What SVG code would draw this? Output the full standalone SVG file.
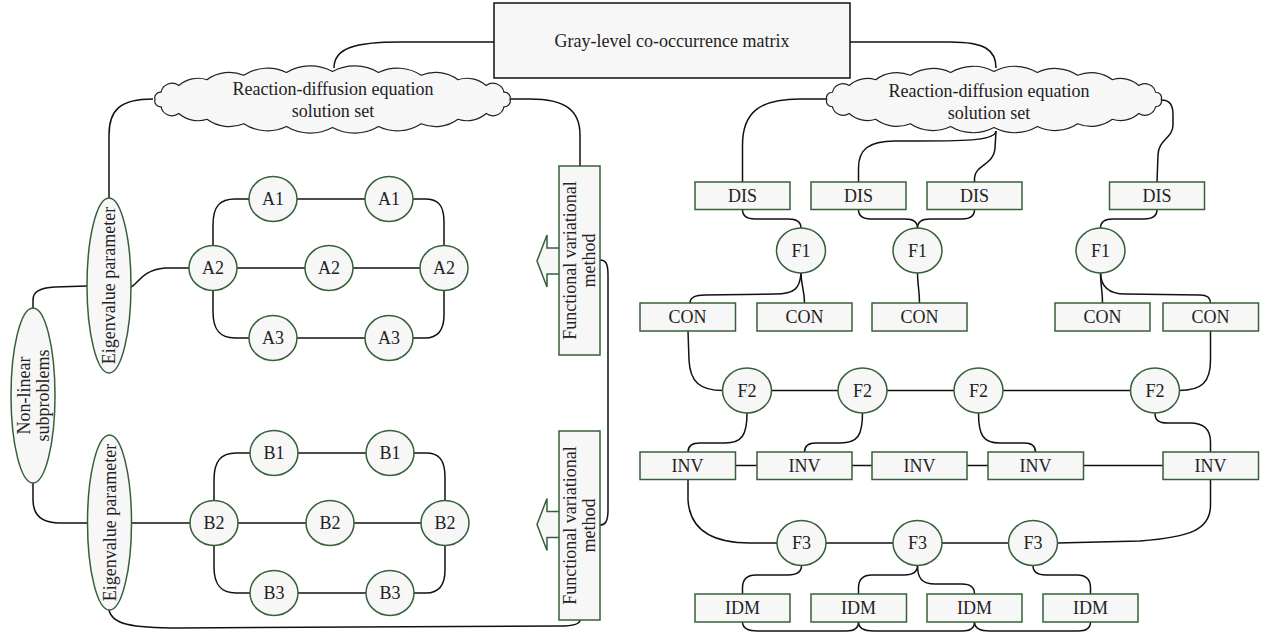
<svg xmlns="http://www.w3.org/2000/svg" width="1267" height="633" viewBox="0 0 1267 633">
<style>
.c{fill:none;stroke:#111;stroke-width:1.5}
.n{fill:#f7f7f7;stroke:#35603a;stroke-width:1.5}
.k{fill:#f7f7f7;stroke:#111;stroke-width:1.5}
.cl{fill:#f7f7f7;stroke:#222;stroke-width:1.2}
text{font-family:"Liberation Serif","Times New Roman",serif;font-size:18px;fill:#222;text-anchor:middle}
</style>
<rect width="1267" height="633" fill="#fff"/>
<g id="connectors">
<path class="c" d="M494,42 L400,42 C355,42 334,48 334,68"/>
<path class="c" d="M850,42 L950,42 C985,42 996,50 996,68"/>
<path class="c" d="M153,99 C120,99 109,110 109,135 L109,198"/>
<path class="c" d="M510,99 L530,99 C565,99 580,110 580,135 L580,166"/>
<path class="c" d="M600,260 C606,260 608,264 608,275 L608,510 C608,522 605,525 600,525"/>
<path class="c" d="M109,610 C112,624 130,628 180,628 L560,626 C574,626 580,624 580,620"/>
<path class="c" d="M87,286 L55,287 C39,288 33,292 33,300 L33,308"/>
<path class="c" d="M33,483 L33,500 C33,516 42,523 60,523 L88,523"/>
<path class="c" d="M131,287 C138,284 142,270 165,268 L189,268"/>
<path class="c" d="M131,523 L190,523"/>
<path class="c" d="M297,199 L365,199"/>
<path class="c" d="M213,245.5 L213,225 C213,206 220,199 235,199 L249,199"/>
<path class="c" d="M413,199 L425,199 C438,199 444,205 444,222 L444,245.5"/>
<path class="c" d="M237,268 L305,268 M353,268 L420,268"/>
<path class="c" d="M213,290.5 L213,312 C213,330 220,338 235,338 L249,338"/>
<path class="c" d="M413,338 L425,338 C438,338 444,330 444,315 L444,290.5"/>
<path class="c" d="M297,338 L365,338"/>
<path class="c" d="M298,453 L366,453"/>
<path class="c" d="M214,500.5 L214,480 C214,461 221,453 236,453 L250,453"/>
<path class="c" d="M414,453 L426,453 C439,453 445,460 445,477 L445,500.5"/>
<path class="c" d="M238,523 L306,523 M354,523 L421,523"/>
<path class="c" d="M214,545.5 L214,567 C214,585 221,593 236,593 L250,593"/>
<path class="c" d="M414,593 L426,593 C439,593 445,585 445,570 L445,545.5"/>
<path class="c" d="M298,593 L366,593"/>
<path class="c" d="M826,99 L800,99 C760,99 742.5,112 742.5,145 L742.5,182"/>
<path class="c" d="M996,131 C995,140 970,141 920,141 L895,141 C868,141 858.5,150 858.5,168 L858.5,182"/>
<path class="c" d="M996,131 L995,148 C994,165 975,165 974.5,178 L974.5,182"/>
<path class="c" d="M1161,100 C1170,100 1173,105 1173,115 L1173,125 C1173,138 1158,140 1158,155 L1157,182"/>
<path class="c" d="M742.5,209.5 C742.5,216 746,219 755,219 L788,219 C797,219 801,222 801,228"/>
<path class="c" d="M858.5,209.5 C858.5,216 862,219 871,219 L905,219 C914,219 917.5,222 917.5,228"/>
<path class="c" d="M974.5,209.5 C974.5,216 971,219 962,219 L930,219 C921,219 917.5,222 917.5,228"/>
<path class="c" d="M1157,209.5 C1157,216 1153,219 1144,219 L1113,219 C1104,219 1100.5,222 1100.5,228"/>
<path class="c" d="M801,273 C800,288 795,294 775,294 L705,295 C694,295 690,298 690,303"/>
<path class="c" d="M801,273 C801,285 804.5,290 804.5,303"/>
<path class="c" d="M917.5,273 C917.5,285 919.5,290 919.5,303"/>
<path class="c" d="M1100.5,273 C1100.5,285 1102.5,290 1102.5,303"/>
<path class="c" d="M1100.5,273 C1101,288 1110,294 1125,294 L1200,295 C1207,295 1210.5,298 1210.5,303"/>
<path class="c" d="M688,331 L689,360 C690,382 700,390.5 723,390.5"/>
<path class="c" d="M771,390.5 L838.5,390.5 M886.5,390.5 L954.5,390.5 M1002.5,390.5 L1131,390.5"/>
<path class="c" d="M1210.5,331 L1210.5,360 C1210.5,382 1202,390.5 1179,390.5"/>
<path class="c" d="M747,413 C747,435 742,443 725,443 L700,443 C692,443 688,446 688,452"/>
<path class="c" d="M862.5,413 C862.5,435 858,443 840,443 L816,443 C808,443 804.5,446 804.5,452"/>
<path class="c" d="M978.5,413 C978.5,435 983,443 1000,443 L1024,443 C1032,443 1035.5,446 1035.5,452"/>
<path class="c" d="M1155,413 C1155,420 1158,423 1168,423 L1190,423 C1205,423 1210.5,430 1210.5,442 L1210.5,452"/>
<path class="c" d="M735,465.5 L757,465.5 M852,465.5 L872,465.5 M967,465.5 L988,465.5 M1083,465.5 L1163,465.5"/>
<path class="c" d="M688,479 L688,500 C690,532 715,543 750,543 L777.5,543"/>
<path class="c" d="M825.5,543 L893.5,543 M941.5,543 L1009,543"/>
<path class="c" d="M1210.5,479 L1210.5,505 C1210.5,530 1190,537 1140,541 L1057,543"/>
<path class="c" d="M801.5,565.5 C801.5,572 797,575 788,575 L756,575 C747,575 742.5,580 742.5,588 L742.5,594"/>
<path class="c" d="M917.5,565.5 C917.5,572 913,575 904,575 L872,575 C863,575 858.5,580 858.5,588 L858.5,594"/>
<path class="c" d="M917.5,565.5 C917.5,578 922,584 935,584 L962,584 C971,584 974.5,588 974.5,594"/>
<path class="c" d="M1033,565.5 C1033,572 1037,575 1046,575 L1077,575 C1086,575 1090.5,580 1090.5,588 L1090.5,594"/>
<path class="c" d="M742.5,622 C742.5,628 747,631 758,631 L846,631 C855,631 858.5,628 858.5,622"/>
<path class="c" d="M858.5,622 C858.5,628 863,631 874,631 L962,631 C971,631 974.5,628 974.5,622"/>
<path class="c" d="M974.5,622 C974.5,628 979,631 990,631 L1078,631 C1087,631 1090.5,628 1090.5,622"/>
</g>
<g id="glcm"><rect class="k" x="494" y="3" width="356" height="75"/><text x="672" y="47">Gray-level co-occurrence matrix</text></g>
<g id="cloud-left">
<path class="cl" transform="translate(332.5,0) scale(1.02,1) translate(-332.5,0)" d="M158.5,99.5 A5.6,5.6 0 0 1 164.4,92.25 A11,11 0 0 1 181.8,85.5 A28,28 0 0 1 209.5,79.7 A36,36 0 0 1 245.5,75.25 A42,42 0 0 1 287.4,72.45 A45,45 0 0 1 332.5,71.5 A45,45 0 0 1 377.6,72.45 A42,42 0 0 1 419.5,75.25 A36,36 0 0 1 455.5,79.7 A28,28 0 0 1 483.2,85.5 A11,11 0 0 1 500.6,92.25 A5.6,5.6 0 0 1 506.5,99.5 A5.6,5.6 0 0 1 500.6,106.75 A11,11 0 0 1 483.2,113.5 A28,28 0 0 1 455.5,119.3 A36,36 0 0 1 419.5,123.75 A42,42 0 0 1 377.6,126.55 A45,45 0 0 1 332.5,127.5 A45,45 0 0 1 287.4,126.55 A42,42 0 0 1 245.5,123.75 A36,36 0 0 1 209.5,119.3 A28,28 0 0 1 181.8,113.5 A11,11 0 0 1 164.4,106.75 A5.6,5.6 0 0 1 158.5,99.5 Z"/>
<text x="333" y="95">Reaction-diffusion equation</text><text x="333" y="117">solution set</text></g>
<g id="cloud-right">
<path class="cl" transform="translate(994,0) scale(1.02,1) translate(-994,0)" d="M830,99.5 A5.6,5.6 0 0 1 835.6,92.25 A10.7,10.7 0 0 1 852,85.5 A26.7,26.7 0 0 1 878,79.7 A34.3,34.3 0 0 1 912,75.25 A39.5,39.5 0 0 1 951.5,72.45 A42.5,42.5 0 0 1 994,71.5 A42.5,42.5 0 0 1 1036.5,72.45 A39.5,39.5 0 0 1 1076,75.25 A34.3,34.3 0 0 1 1110,79.7 A26.7,26.7 0 0 1 1136,85.5 A10.7,10.7 0 0 1 1152.4,92.25 A5.6,5.6 0 0 1 1158,99.5 A5.6,5.6 0 0 1 1152.4,106.75 A10.7,10.7 0 0 1 1136,113.5 A26.7,26.7 0 0 1 1110,119.3 A34.3,34.3 0 0 1 1076,123.75 A39.5,39.5 0 0 1 1036.5,126.55 A42.5,42.5 0 0 1 994,127.5 A42.5,42.5 0 0 1 951.5,126.55 A39.5,39.5 0 0 1 912,123.75 A34.3,34.3 0 0 1 878,119.3 A26.7,26.7 0 0 1 852,113.5 A10.7,10.7 0 0 1 835.6,106.75 A5.6,5.6 0 0 1 830,99.5 Z"/>
<text x="989" y="97">Reaction-diffusion equation</text><text x="989" y="119">solution set</text></g>
<g id="eigen-1"><ellipse class="n" cx="109" cy="285.5" rx="22" ry="87.5"/><text transform="translate(109,285.5) rotate(-90)" y="6">Eigenvalue parameter</text></g>
<g id="eigen-2"><ellipse class="n" cx="109.5" cy="522.5" rx="22" ry="87.5"/><text transform="translate(109.5,522.5) rotate(-90)" y="6">Eigenvalue parameter</text></g>
<g id="nonlinear"><ellipse class="n" cx="33" cy="395.5" rx="22" ry="87.5"/><text transform="translate(33,395.5) rotate(-90)"><tspan x="0" y="-3">Non-linear</tspan><tspan x="0" y="16">subproblems</tspan></text></g>
<g id="fvm-1"><polygon class="n" points="560,248 547,248 547,235 537,261 547,287 547,274 560,274"/><rect class="n" x="559" y="166" width="41" height="189"/><text transform="translate(579.5,260.5) rotate(-90)"><tspan x="0" y="-4">Functional variational</tspan><tspan x="0" y="15">method</tspan></text></g>
<g id="fvm-2"><polygon class="n" points="560,511.5 547,511.5 547,498.5 537,524.5 547,550.5 547,537.5 560,537.5"/><rect class="n" x="559" y="431" width="41" height="189"/><text transform="translate(579.5,525.5) rotate(-90)"><tspan x="0" y="-4">Functional variational</tspan><tspan x="0" y="15">method</tspan></text></g>
<g id="a1-l"><ellipse class="n" cx="273" cy="199" rx="24" ry="22.5"/><text x="273" y="205">A1</text></g>
<g id="a1-r"><ellipse class="n" cx="389" cy="199" rx="24" ry="22.5"/><text x="389" y="205">A1</text></g>
<g id="a2-l"><ellipse class="n" cx="213" cy="268" rx="24" ry="22.5"/><text x="213" y="274">A2</text></g>
<g id="a2-m"><ellipse class="n" cx="329" cy="268" rx="24" ry="22.5"/><text x="329" y="274">A2</text></g>
<g id="a2-r"><ellipse class="n" cx="444" cy="268" rx="24" ry="22.5"/><text x="444" y="274">A2</text></g>
<g id="a3-l"><ellipse class="n" cx="273" cy="338" rx="24" ry="22.5"/><text x="273" y="344">A3</text></g>
<g id="a3-r"><ellipse class="n" cx="389" cy="338" rx="24" ry="22.5"/><text x="389" y="344">A3</text></g>
<g id="b1-l"><ellipse class="n" cx="274" cy="453" rx="24" ry="22.5"/><text x="274" y="459">B1</text></g>
<g id="b1-r"><ellipse class="n" cx="390" cy="453" rx="24" ry="22.5"/><text x="390" y="459">B1</text></g>
<g id="b2-l"><ellipse class="n" cx="214" cy="523" rx="24" ry="22.5"/><text x="214" y="529">B2</text></g>
<g id="b2-m"><ellipse class="n" cx="330" cy="523" rx="24" ry="22.5"/><text x="330" y="529">B2</text></g>
<g id="b2-r"><ellipse class="n" cx="445" cy="523" rx="24" ry="22.5"/><text x="445" y="529">B2</text></g>
<g id="b3-l"><ellipse class="n" cx="274" cy="593" rx="24" ry="22.5"/><text x="274" y="599">B3</text></g>
<g id="b3-r"><ellipse class="n" cx="390" cy="593" rx="24" ry="22.5"/><text x="390" y="599">B3</text></g>
<g id="dis-1"><rect class="n" x="695" y="182" width="95" height="27.5"/><text x="742.5" y="202">DIS</text></g>
<g id="dis-2"><rect class="n" x="811" y="182" width="95" height="27.5"/><text x="858.5" y="202">DIS</text></g>
<g id="dis-3"><rect class="n" x="927" y="182" width="95" height="27.5"/><text x="974.5" y="202">DIS</text></g>
<g id="dis-4"><rect class="n" x="1109.5" y="182" width="95" height="27.5"/><text x="1157" y="202">DIS</text></g>
<g id="f1-a"><ellipse class="n" cx="801" cy="250.5" rx="24.5" ry="22.5"/><text x="801" y="256.5">F1</text></g>
<g id="f1-b"><ellipse class="n" cx="917.5" cy="250.5" rx="24.5" ry="22.5"/><text x="917.5" y="256.5">F1</text></g>
<g id="f1-c"><ellipse class="n" cx="1100.5" cy="250.5" rx="24.5" ry="22.5"/><text x="1100.5" y="256.5">F1</text></g>
<g id="con-1"><rect class="n" x="640" y="303" width="95.5" height="28"/><text x="687.5" y="323">CON</text></g>
<g id="con-2"><rect class="n" x="757" y="303" width="95" height="28"/><text x="804.5" y="323">CON</text></g>
<g id="con-3"><rect class="n" x="872" y="303" width="95" height="28"/><text x="919.5" y="323">CON</text></g>
<g id="con-4"><rect class="n" x="1055" y="303" width="95" height="28"/><text x="1102.5" y="323">CON</text></g>
<g id="con-5"><rect class="n" x="1163" y="303" width="95.5" height="28"/><text x="1210.5" y="323">CON</text></g>
<g id="f2-a"><ellipse class="n" cx="747" cy="390.5" rx="24.5" ry="22.5"/><text x="747" y="396.5">F2</text></g>
<g id="f2-b"><ellipse class="n" cx="862.5" cy="390.5" rx="24.5" ry="22.5"/><text x="862.5" y="396.5">F2</text></g>
<g id="f2-c"><ellipse class="n" cx="978.5" cy="390.5" rx="24.5" ry="22.5"/><text x="978.5" y="396.5">F2</text></g>
<g id="f2-d"><ellipse class="n" cx="1155" cy="390.5" rx="24.5" ry="22.5"/><text x="1155" y="396.5">F2</text></g>
<g id="inv-1"><rect class="n" x="640" y="452" width="95.5" height="27.5"/><text x="687.5" y="472">INV</text></g>
<g id="inv-2"><rect class="n" x="757" y="452" width="95" height="27.5"/><text x="804.5" y="472">INV</text></g>
<g id="inv-3"><rect class="n" x="872" y="452" width="95" height="27.5"/><text x="919.5" y="472">INV</text></g>
<g id="inv-4"><rect class="n" x="988" y="452" width="95.5" height="27.5"/><text x="1035.5" y="472">INV</text></g>
<g id="inv-5"><rect class="n" x="1163" y="452" width="95.5" height="27.5"/><text x="1210.5" y="472">INV</text></g>
<g id="f3-a"><ellipse class="n" cx="801.5" cy="543" rx="24.5" ry="22.5"/><text x="801.5" y="549">F3</text></g>
<g id="f3-b"><ellipse class="n" cx="917.5" cy="543" rx="24.5" ry="22.5"/><text x="917.5" y="549">F3</text></g>
<g id="f3-c"><ellipse class="n" cx="1033" cy="543" rx="24.5" ry="22.5"/><text x="1033" y="549">F3</text></g>
<g id="idm-1"><rect class="n" x="695" y="594" width="95" height="28"/><text x="742.5" y="614">IDM</text></g>
<g id="idm-2"><rect class="n" x="811" y="594" width="95.5" height="28"/><text x="858.5" y="614">IDM</text></g>
<g id="idm-3"><rect class="n" x="927" y="594" width="95" height="28"/><text x="974.5" y="614">IDM</text></g>
<g id="idm-4"><rect class="n" x="1043" y="594" width="95" height="28"/><text x="1090.5" y="614">IDM</text></g>
</svg>
